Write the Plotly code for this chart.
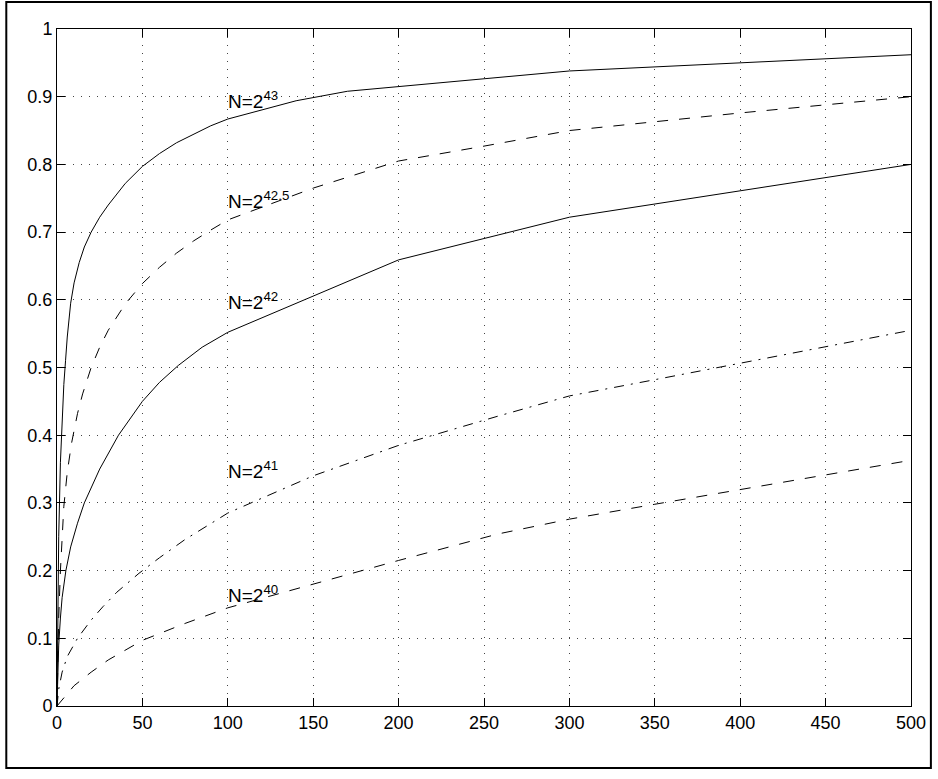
import plotly.graph_objects as go

# ---- data ----
x43 = [0, 0.5, 1, 2, 3, 4, 5, 6, 8, 10, 13, 16, 20, 25, 30, 40, 50, 60, 70, 80, 90, 100, 120, 140, 170, 200, 300, 500]
y43 = [0, 0.15, 0.25, 0.36, 0.43, 0.475, 0.51, 0.545, 0.595, 0.625, 0.655, 0.678, 0.70, 0.722, 0.74, 0.772, 0.797, 0.816, 0.832, 0.845, 0.857, 0.867, 0.881, 0.894, 0.908, 0.915, 0.938, 0.962]

x425 = [0, 0.5, 1, 2, 3, 4, 6, 8.5, 12, 15, 20, 25, 30, 40, 50, 60, 70, 80, 90, 100, 150, 200, 250, 300, 400, 500]
y425 = [0, 0.08, 0.13, 0.2, 0.255, 0.295, 0.345, 0.388, 0.432, 0.461, 0.5, 0.53, 0.555, 0.594, 0.624, 0.648, 0.669, 0.687, 0.703, 0.718, 0.765, 0.805, 0.827, 0.85, 0.876, 0.90]

x42 = [0, 1, 2, 3, 5.2, 8, 12, 16, 25, 36, 50, 60, 71, 85, 100, 200, 300, 400, 500]
y42 = [0, 0.09, 0.13, 0.16, 0.2, 0.235, 0.27, 0.30, 0.35, 0.40, 0.45, 0.478, 0.503, 0.53, 0.552, 0.659, 0.722, 0.761, 0.80]

x41 = [0, 1, 3, 6, 12, 20, 27, 35, 48, 60, 75, 100, 150, 200, 258, 300, 350, 400, 500]
y41 = [0, 0.025, 0.05, 0.073, 0.1, 0.127, 0.147, 0.168, 0.196, 0.219, 0.246, 0.285, 0.34, 0.385, 0.428, 0.458, 0.482, 0.506, 0.555]

x40 = [0, 5, 10, 20, 30, 50, 75, 100, 150, 200, 258, 300, 350, 400, 500]
y40 = [0, 0.015, 0.03, 0.05, 0.068, 0.097, 0.122, 0.145, 0.18, 0.215, 0.254, 0.276, 0.298, 0.32, 0.363]

label_texts = ["N=2<sup>43</sup>", "N=2<sup>42.5</sup>", "N=2<sup>42</sup>", "N=2<sup>41</sup>", "N=2<sup>40</sup>"]
label_x = [100, 100, 100, 100, 100]
label_y = [0.895, 0.747, 0.598, 0.348, 0.165]

x_ticks = [0, 50, 100, 150, 200, 250, 300, 350, 400, 450, 500]
y_ticks = [0, 0.1, 0.2, 0.3, 0.4, 0.5, 0.6, 0.7, 0.8, 0.9, 1]
y_ticktext = ["0", "0.1", "0.2", "0.3", "0.4", "0.5", "0.6", "0.7", "0.8", "0.9", "1"]

FONT = "Liberation Sans, Arial, Helvetica, sans-serif"
DASH = "11px,11px"
DASHDOT = "10px,7px,2px,7px"

series = [
    (x43, y43, "solid"),
    (x425, y425, DASH),
    (x42, y42, "solid"),
    (x41, y41, DASHDOT),
    (x40, y40, DASH),
]

fig = go.Figure()
for xs, ys, dash in series:
    fig.add_trace(go.Scatter(x=xs, y=ys, mode="lines",
                             line=dict(color="black", width=1, dash=dash),
                             showlegend=False, hoverinfo="skip"))

for t, lx, ly in zip(label_texts, label_x, label_y):
    fig.add_annotation(x=lx, y=ly, text=t, showarrow=False, xanchor="left", yanchor="middle",
                       font=dict(family=FONT, size=19, color="black"), xshift=-2)

W, H = 938, 779
L, R, T, B = 57, 22, 29, 73
pw, ph = W - L - R, H - T - B
# outer figure frame in paper coordinates
fx0 = (6 - L) / pw
fx1 = (936 - L) / pw
fy1 = (H - B - 2) / ph
fy0 = (H - B - 768) / ph
fig.add_shape(type="rect", xref="paper", yref="paper", x0=fx0, x1=fx1, y0=fy0, y1=fy1,
              line=dict(color="black", width=2), layer="below")

axis_common = dict(showline=True, linecolor="black", linewidth=1, mirror="ticks",
                   ticks="inside", ticklen=8, tickcolor="black", tickwidth=1,
                   showgrid=True, gridcolor="#444", gridwidth=1, griddash="1px,7px",
                   zeroline=False, tickfont=dict(family=FONT, size=18, color="black"))

fig.update_xaxes(range=[0, 500], tickvals=x_ticks, ticktext=[str(v) for v in x_ticks], **axis_common)
fig.update_yaxes(range=[0, 1], tickvals=y_ticks, ticktext=y_ticktext, **axis_common)

fig.update_layout(width=W, height=H, margin=dict(l=L, r=R, t=T, b=B, pad=0),
                  paper_bgcolor="white", plot_bgcolor="white",
                  font=dict(family=FONT, size=18, color="black"))

fig.write_html("out.html", config={"displayModeBar": False, "staticPlot": True},
               post_script="document.body.style.margin='0';document.body.style.padding='0';")
